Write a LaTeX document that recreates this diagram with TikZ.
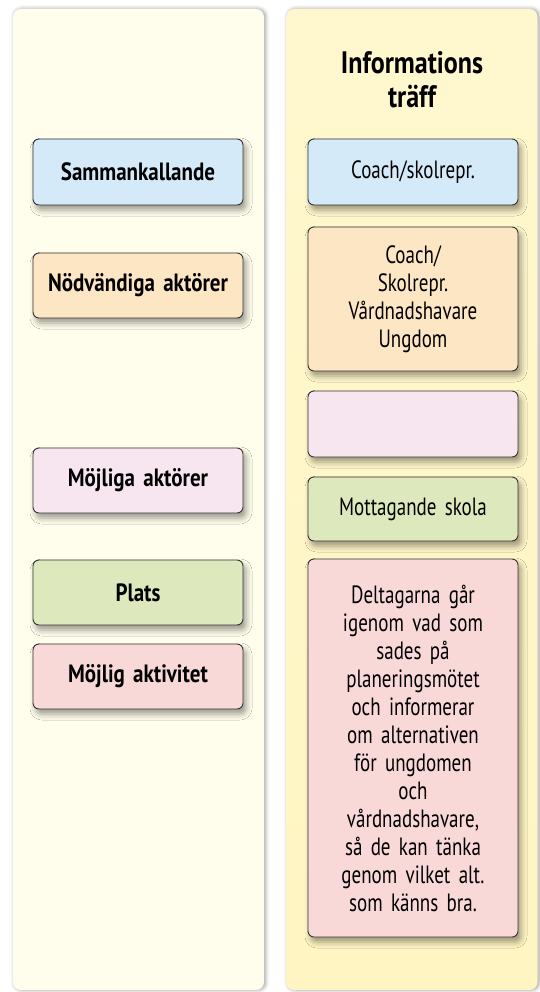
\documentclass[tikz,border=0pt]{standalone}
\usepackage{fontspec}
\setmainfont{PT Sans}[UprightFeatures={FakeStretch=0.76}, BoldFeatures={FakeStretch=0.84}]
\usetikzlibrary{shadows.blur}
\definecolor{laneA}{HTML}{FFFDEB}
\definecolor{laneTop}{HTML}{FFF8CF}
\definecolor{laneBot}{HTML}{FFF5C2}
\definecolor{cBlue}{HTML}{D5EAF8}
\definecolor{cOrange}{HTML}{FDE6C4}
\definecolor{cPink}{HTML}{F7E6F0}
\definecolor{cGreen}{HTML}{DDE8BC}
\definecolor{cRed}{HTML}{F8D9D8}
\tikzset{
  lane/.style={rounded corners=8pt, minimum width=251pt, minimum height=981pt,
    blur shadow={shadow xshift=1.5pt, shadow yshift=0pt, shadow blur radius=4pt, shadow opacity=40}},
  card/.style={draw=black!80, line width=0.9pt, rounded corners=6pt, minimum width=210pt,
    text width=194pt, align=center, font={\fontsize{25}{28}\selectfont\spaceskip=5.5pt\relax},
    blur shadow={shadow xshift=3pt, shadow yshift=-5pt, shadow blur radius=6pt, shadow opacity=40}},
  bcard/.style={card, font={\fontsize{25}{28}\selectfont\bfseries\spaceskip=6pt\relax}},
}
\begin{document}
\begin{tikzpicture}[x=1pt, y=-1pt]
\useasboundingbox (0,0) rectangle (539,992);
% lanes
\node[lane, fill=laneA] (laneL) at (138.5,499.5) {};
\node[lane, top color=laneTop, bottom color=laneBot] (laneR) at (412,499.5) {};
\node[font=\fontsize{31}{34}\selectfont\bfseries, align=center] (title) at (412,80) {Informations\\träff};
% left column
\foreach \n/\y/\h/\c/\t in {samm/172/66/cBlue/Sammankallande, nodv/285.5/65/cOrange/Nödvändiga aktörer,
  mojl/480.5/65/cPink/Möjliga aktörer, plats/592.5/65/cGreen/Plats, aktiv/676.5/65/cRed/Möjlig aktivitet}
  \node[bcard, fill=\c, minimum height=\h pt] (\n) at (138,\y) {\t};
% right column
\node[card, fill=cBlue, minimum height=66pt] (coach) at (413,172) {Coach/skolrepr.};
\node[card, fill=cOrange, minimum height=144pt] (deltag) at (413,299) {Coach/\\Skolrepr.\\Vårdnadshavare\\Ungdom};
\node[card, fill=cPink, minimum height=66pt] (tom) at (413,424) {};
\node[card, fill=cGreen, minimum height=64pt] (skola) at (413,509) {Mottagande skola};
\node[card, fill=cRed, minimum height=378pt] (info) at (413,748) {Deltagarna går\\igenom vad som\\sades på\\planeringsmötet\\och informerar\\om alternativen\\för ungdomen\\och\\vårdnadshavare,\\så de kan tänka\\genom vilket alt.\\som känns bra.};
\end{tikzpicture}
\end{document}
